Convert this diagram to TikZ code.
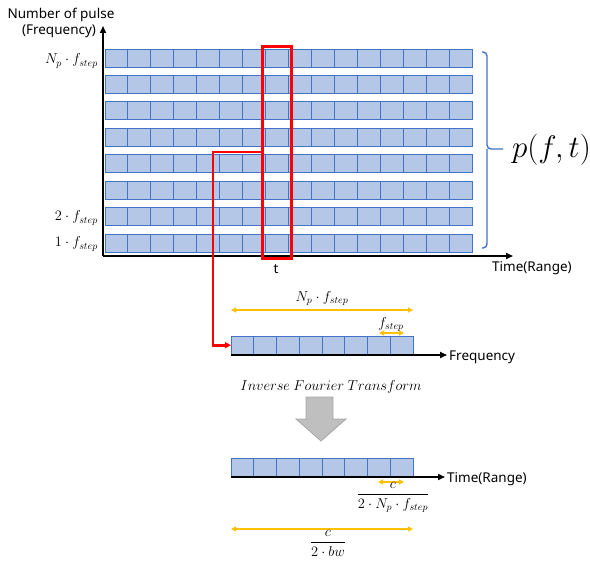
\documentclass[tikz,border=0pt]{standalone}
\usepackage{graphicx}
\usepackage{fontspec}
\setmainfont{Noto Sans}
\usetikzlibrary{arrows.meta}
\definecolor{cellfill}{HTML}{B4C7E7}
\definecolor{cellline}{HTML}{4472C4}
\definecolor{ylw}{HTML}{FFC000}
\definecolor{redc}{HTML}{FF0000}
\definecolor{grayfill}{HTML}{BFBFBF}
\definecolor{grayline}{HTML}{A6A6A6}
\begin{document}
\begin{tikzpicture}[x=1pt,y=-1pt,
  cell/.style={draw=cellline,fill=cellfill,line width=0.9pt},
  axisline/.style={draw=black,line width=1.6pt,-{Triangle[length=7pt,width=6pt]}},
  ylwarrow/.style={draw=ylw,line width=1.3pt,{Triangle[length=5pt,width=5pt]}-{Triangle[length=5pt,width=5pt]}},
  redline/.style={draw=redc,line width=2.8pt},
  txt/.style={font=\fontsize{13.5}{15}\selectfont,inner sep=0pt},
  mth/.style={font=\fontsize{14.5}{16}\selectfont,inner sep=0pt},
  bracestyle/.style={draw=cellline,line width=1.4pt,rounded corners=4pt}]
\useasboundingbox (0,0) rectangle (590,567);
% ---- main grid of pulses
\foreach \i in {0,...,7} {
  \pgfmathsetmacro\rtop{49+26.43*\i}
  \foreach \j in {0,...,15} {
    \draw[cell] (105+22.94*\j,\rtop) rectangle ++(22.94,18);
  }
}
% axes
\coordinate (origin) at (103,256);
\coordinate (ytip) at (103,26);
\coordinate (xtip) at (513,256);
\draw[axisline] (origin) -- (ytip);
\draw[axisline] (origin) -- (xtip);
\node[txt,anchor=south] (ylab1) at (61,22) {Number of pulse};
\node[txt,anchor=south] (ylab2) at (59,38) {(Frequency)};
\node[txt,anchor=west] (xlab) at (492,268) {Time(Range)};
\node[mth,anchor=east] (l1) at (98,61) {$N_p\cdot f_{step}$};
\node[mth,anchor=east] (l2) at (98,218) {$2\cdot f_{step}$};
\node[mth,anchor=east] (l3) at (98,244) {$1\cdot f_{step}$};
\node[txt] (tlab) at (276,269) {t};
% selection
\node[redline,draw,minimum width=29pt,minimum height=212pt,inner sep=0pt,anchor=north west] (sel) at (261,45) {};
% brace
\coordinate (btop) at (482,52);
\coordinate (bbot) at (482,248);
\coordinate (bmid) at (503,149);
\draw[bracestyle] (btop) -| (487,149) -- (bmid);
\draw[bracestyle] (bbot) -| (487,149);
\node[font=\fontsize{24.88}{28}\selectfont,anchor=west,inner sep=0pt] (pft) at (512,150) {\scalebox{1.25}{$p(f,t)$}};
% ---- frequency row
\foreach \j in {0,...,7} {
  \draw[cell] (231+22.75*\j,336) rectangle ++(22.75,18);
}
\node[minimum width=182pt,minimum height=18pt,inner sep=0pt,anchor=north west] (frow) at (231,336) {};
\coordinate (fstart) at (231,355);
\coordinate (ftip) at (447,355);
\draw[axisline] (fstart) -- (ftip);
\node[txt,anchor=west] (flab) at (449,357) {Frequency};
\coordinate (bend1) at (213,152);
\draw[redline,-{Triangle[length=6pt,width=6pt]}] (sel.west |- bend1) -- (bend1) |- (frow.west);
% bandwidth arrows
\coordinate (bwa) at (231,310);
\coordinate (bwb) at (413,310);
\draw[ylwarrow] (bwa) -- (bwb);
\node[mth,anchor=south] (bwlab) at (322,306) {$N_p\cdot f_{step}$};
\coordinate (fsa) at (379,333);
\coordinate (fsb) at (404,333);
\draw[ylwarrow] (fsa) -- (fsb);
\node[mth,anchor=south] (fslab) at (391,332) {$f_{step}$};
% ---- IFT
\node[font=\fontsize{13.5}{15}\selectfont,inner sep=0pt] (ift) at (331,387) {$Inverse\ Fourier\ Transform$};
\draw[fill=grayfill,draw=grayline,line width=0.8pt] (306,397) -- (333,397) -- (333,419) -- (346,419) -- (321,441) -- (296,419) -- (306,419) -- cycle;
% ---- time row
\foreach \j in {0,...,7} {
  \draw[cell] (231+22.75*\j,458) rectangle ++(22.75,18);
}
\coordinate (tstart) at (231,477);
\coordinate (ttip) at (445,477);
\draw[axisline] (tstart) -- (ttip);
\node[txt,anchor=west] (tlab2) at (447,479) {Time(Range)};
\coordinate (rsa) at (378,482);
\coordinate (rsb) at (404,482);
\draw[ylwarrow] (rsa) -- (rsb);
\node[mth,anchor=north] (rslab) at (393,482) {$\displaystyle\frac{c}{2\cdot N_p\cdot f_{step}}$};
\coordinate (rla) at (231,529);
\coordinate (rlb) at (413,529);
\draw[ylwarrow] (rla) -- (rlb);
\node[mth,anchor=north] (rllab) at (328,530) {$\displaystyle\frac{c}{2\cdot bw}$};
\end{tikzpicture}
\end{document}
